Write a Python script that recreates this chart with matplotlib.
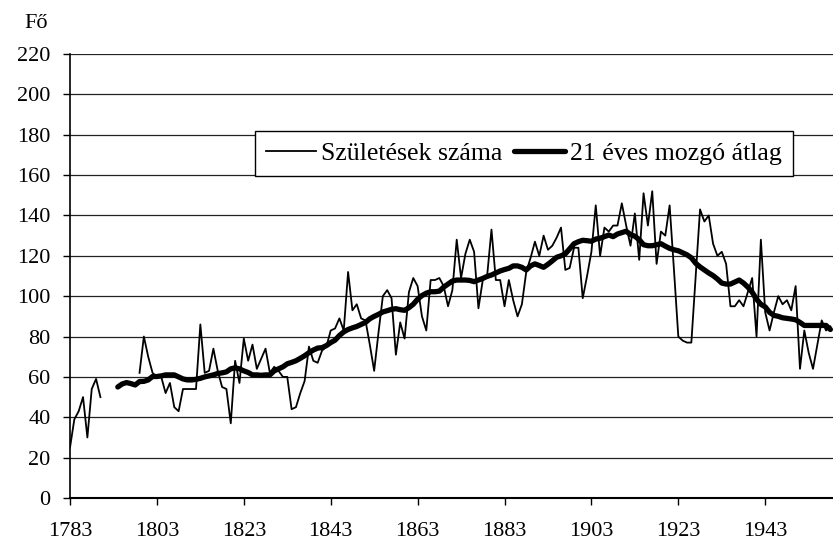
import matplotlib
matplotlib.use('Agg')
import matplotlib.pyplot as plt
import numpy as np

plt.rcParams['font.family'] = ['Liberation Serif', 'DejaVu Serif']
plt.rcParams['font.size'] = 16

nan = np.nan

# number of births per year (gap 1791-1798)
birth_years = list(range(1783, 1959))
births = [25, 39, 43, 50, 30, 54, 59, 50,                        # 1783-1790
          nan, nan, nan, nan, nan, nan, nan, nan,                # 1791-1798
          62, 80, 70, 62, 60, 60, 52, 57, 45, 43,                # 1799-1808
          54, 54, 54, 54, 86, 62, 63, 74, 63, 55,                # 1809-1818
          54, 37, 68, 57, 79, 68, 76, 64, 69, 74,                # 1819-1828
          62, 65, 63, 60, 60, 44, 45, 52, 58, 75,                # 1829-1838
          68, 67, 73, 75, 83, 84, 89, 83, 112, 93,               # 1839-1848
          96, 89, 88, 76, 63, 82, 100, 103, 99, 71,              # 1849-1858
          87, 79, 102, 109, 105, 90, 83, 108, 108, 109,          # 1859-1868
          105, 95, 103, 128, 109, 121, 128, 122, 94, 108,        # 1869-1878
          110, 133, 108, 108, 95, 108, 98, 90, 96, 112,          # 1879-1888
          119, 127, 120, 130, 123, 125, 129, 134, 113, 114,      # 1889-1898
          124, 124, 99, 110, 122, 145, 120, 134, 132, 135,       # 1899-1908
          135, 146, 135, 125, 141, 118, 151, 135, 152, 116,      # 1909-1918
          132, 130, 145, 113, 80, 78, 77, 77, 110, 143,          # 1919-1928
          137, 140, 126, 120, 122, 116, 95, 95, 98, 95,          # 1929-1938
          102, 109, 80, 128, 92, 83, 92, 100, 96, 98,            # 1939-1948
          93, 105, 64, 83, 72, 64, 76, 88, 83, 85]               # 1949-1958

# 21-year moving average
ma_years = list(range(1794, 1959))
moving_avg = [55, 56.5, 57.2, 56.7, 56, 57.7, 57.8, 58.5, 60.2, 60.2,              # 1794-1803
              60.5, 61, 61, 61, 60, 59, 58.5, 58.5, 58.8, 59.3,                    # 1804-1813
              60, 60.5, 61, 61.7, 62, 62.5, 64, 64.5, 64, 63,                      # 1814-1823
              62.2, 61, 61, 60.8, 61, 61, 63, 64, 65, 66.5,                        # 1824-1833
              67.2, 68, 69.2, 70.5, 72, 73.3, 74.3, 74.5, 75.5, 77,                # 1834-1843
              78.2, 80.5, 82.3, 83.5, 84.3, 85, 86, 87, 88.8, 90,                  # 1844-1853
              91, 92.2, 92.8, 93.5, 93.8, 93.3, 93, 94.3, 96, 98.5,                # 1854-1863
              100.3, 101.5, 102.2, 102.2, 102.5, 104.5, 106, 107.5, 108, 108,      # 1864-1873
              108, 107.8, 107.2, 108, 108.8, 109.8, 110.5, 111.5, 112.5, 113.2,    # 1874-1883
              113.8, 115, 115, 114.3, 113, 115, 116, 115.2, 114.3, 115.8,          # 1884-1893
              117.5, 119.3, 120, 121, 123.5, 126, 127, 127.7, 127.5, 127.2,        # 1894-1903
              128.3, 128.7, 129.5, 130.3, 129.5, 130.8, 131.5, 132.2, 130.5, 129.7,  # 1904-1913
              128, 125.5, 125, 125, 125.5, 126, 124.8, 123.7, 123, 122.5,          # 1914-1923
              121.5, 120.5, 119, 116.3, 114.5, 113, 111.5, 110.2, 108.5, 106.5,    # 1924-1933
              106, 106, 107, 108, 106.5, 104.5, 102, 98.5, 96, 94.7,               # 1934-1943
              92, 90.5, 90, 89.3, 89, 88.7, 88.3, 87, 85.5, 85.5,                  # 1944-1953
              85.5, 85.5, 85.5, 85.5, 83.5]                                        # 1954-1958

xticks = list(range(1783, 1959, 20))
yticks = list(range(0, 221, 20))

fig = plt.figure(figsize=(8.33, 5.45), dpi=100)
ax = fig.add_axes([70 / 833, 47 / 545, 763 / 833, 444 / 545])

l1, = ax.plot(birth_years, births, color='black', lw=1.3)
l2, = ax.plot(ma_years, moving_avg, color='black', lw=3.8,
              solid_joinstyle='round', solid_capstyle='round')

ax.set_xlim(1783, 1958.6)
ax.set_ylim(0, 220)
ax.set_xticks(xticks)
ax.set_yticks(yticks)
ax.yaxis.grid(True, color='#222222', lw=0.9)
ax.set_axisbelow(True)

for s in ['top', 'right']:
    ax.spines[s].set_visible(False)
ax.spines['left'].set_linewidth(1.2)
ax.spines['bottom'].set_linewidth(1.5)
ax.tick_params(axis='x', direction='out', length=5, width=1, pad=12, labelsize=16)
ax.tick_params(axis='y', direction='out', length=5, width=1, pad=9, labelsize=16)

leg = ax.legend([l1, l2], ['Születések száma', '21 éves mozgó átlag'],
                loc='upper left', bbox_to_anchor=(0.2425, 0.826), ncol=2,
                frameon=True, fancybox=False, shadow=False, framealpha=1,
                edgecolor='black', borderaxespad=0, borderpad=0.42,
                handlelength=1.95, handletextpad=0.2, columnspacing=0.45,
                fontsize=18.6)
leg.get_frame().set_linewidth(1.0)

fig.text(36 / 833, 1 - 24 / 545, 'Fő', ha='center', va='center', fontsize=16)

fig.savefig('out.png', dpi=100)
